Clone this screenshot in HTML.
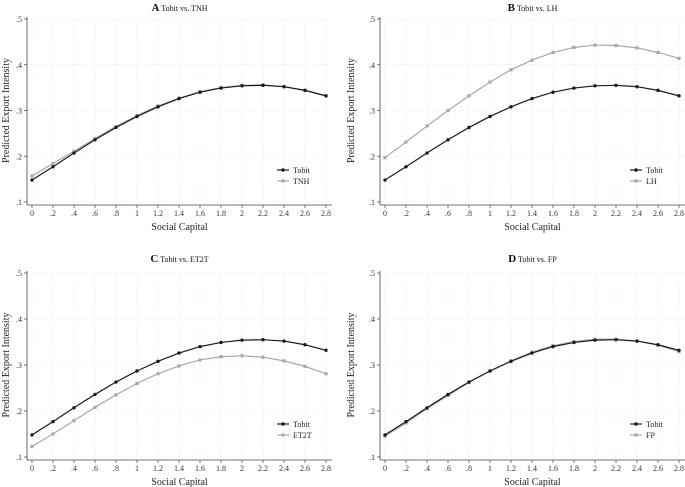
<!DOCTYPE html>
<html><head><meta charset="utf-8"><style>
body{margin:0;background:#fff}
svg{display:block;font-family:"Liberation Serif",serif}
</style></head><body>
<svg id="c" width="685" height="487" viewBox="0 0 685 487"></svg>
<script>
const xValues=[0,0.2,0.4,0.6,0.8,1,1.2,1.4,1.6,1.8,2,2.2,2.4,2.6,2.8];
const xTickLabels=["0",".2",".4",".6",".8","1","1.2","1.4","1.6","1.8","2","2.2","2.4","2.6","2.8"];
const yTicks=[0.1,0.2,0.3,0.4,0.5];
const yTickLabels=[".1",".2",".3",".4",".5"];
const tobit=[0.148,0.177,0.207,0.236,0.263,0.287,0.308,0.326,0.340,0.349,0.354,0.355,0.352,0.344,0.332];
const tnh=[0.157,0.184,0.211,0.239,0.265,0.289,0.310,0.327,0.341,0.350,0.355,0.356,0.352,0.344,0.332];
const lh=[0.197,0.231,0.266,0.300,0.332,0.362,0.389,0.410,0.427,0.438,0.443,0.442,0.437,0.427,0.414];
const et2t=[0.123,0.150,0.179,0.208,0.235,0.260,0.281,0.298,0.311,0.318,0.320,0.317,0.309,0.297,0.281];
const fp=[0.145,0.174,0.205,0.234,0.262,0.287,0.309,0.328,0.342,0.351,0.356,0.356,0.352,0.343,0.329];
const panelLetters=["A","B","C","D"];
const compNames=["TNH","LH","ET2T","FP"];
const compSeries=[tnh,lh,et2t,fp];

const NS="http://www.w3.org/2000/svg";
const svg=document.getElementById('c');
function mk(tag,attrs,parent){const e=document.createElementNS(NS,tag);for(const k in attrs)e.setAttribute(k,attrs[k]);(parent||svg).appendChild(e);return e;}
const layouts=[
 {x0:32,x1:326,yTop:19,yBot:202,axisX:27,ox:0,oy:0},
 {x0:385,x1:679,yTop:19,yBot:202,axisX:380,ox:345,oy:0},
 {x0:32,x1:326,yTop:273,yBot:457,axisX:27,ox:0,oy:242},
 {x0:385,x1:679,yTop:273,yBot:457,axisX:380,ox:345,oy:242}];
layouts.forEach((L,i)=>{
 const g=mk('g',{});
 
 
 const sx=v=>L.x0+(v-0)/(2.8-0)*(L.x1-L.x0);
 const sy=v=>L.yBot-(v-0.1)/(0.5-0.1)*(L.yBot-L.yTop);
 const right=L.x1+6;
 // grid
 yTicks.forEach((t,k)=>{
  const gl=mk('line',{x1:L.axisX,x2:right,y1:sy(t),y2:sy(t),stroke:'#dcdcdc','stroke-width':0.6,'stroke-dasharray':'1,1.5'},g);
  
  mk('line',{x1:L.axisX-3,x2:L.axisX,y1:sy(t),y2:sy(t),stroke:'#444','stroke-width':0.7},g);
  const tl=mk('text',{x:L.axisX-5,y:sy(t)+3,'font-size':8,'text-anchor':'end',fill:'#333'},g);
  tl.textContent=yTickLabels[k];
 });
 xValues.forEach((v,k)=>{
  const gl=mk('line',{x1:sx(v),x2:sx(v),y1:L.yTop,y2:L.yBot+3,stroke:'#dcdcdc','stroke-width':0.6,'stroke-dasharray':'1,1.5'},g);
  
  mk('line',{x1:sx(v),x2:sx(v),y1:L.yBot+3,y2:L.yBot+6,stroke:'#444','stroke-width':0.7},g);
  const tl=mk('text',{x:sx(v),y:L.yBot+14,'font-size':8,'text-anchor':'middle',fill:'#333'},g);
  tl.textContent=xTickLabels[k];
 });
 const ya=mk('line',{x1:L.axisX,x2:L.axisX,y1:L.yTop-2,y2:L.yBot+3,stroke:'#444','stroke-width':0.8},g);
 
 const xa=mk('line',{x1:L.axisX,x2:right,y1:L.yBot+3,y2:L.yBot+3,stroke:'#444','stroke-width':0.8},g);
 
 // titles
 const tt=mk('text',{x:(L.axisX+right)/2,y:L.oy+(i<2?11:20),'text-anchor':'middle','font-size':8,fill:'#111'},g);
 tt.innerHTML='<tspan font-size="11" font-weight="bold">'+panelLetters[i]+'</tspan> Tobit vs. '+compNames[i];
 
 const xt=mk('text',{x:(L.axisX+right)/2,y:L.yBot+28,'text-anchor':'middle','font-size':10,fill:'#222'},g);
 xt.textContent='Social Capital';
 const ycy=(L.yTop+L.yBot)/2, ycx=L.ox+9;
 const yt=mk('text',{x:ycx,y:ycy,'text-anchor':'middle','font-size':10,fill:'#222',transform:'rotate(-90 '+ycx+' '+ycy+')'},g);
 yt.textContent='Predicted Export Intensity';
 // series
 const drawSeries=(vals,color,name,square)=>{
  const sg=mk('g',{},g);
  
  mk('polyline',{points:vals.map((v,k)=>sx(xValues[k])+','+sy(v)).join(' '),fill:'none',stroke:color,'stroke-width':1.2},sg);
  vals.forEach((v,k)=>{
   const m=square?mk('rect',{x:sx(xValues[k])-1.6,y:sy(v)-1.6,width:3.2,height:3.2,fill:color},sg):mk('circle',{cx:sx(xValues[k]),cy:sy(v),r:1.7,fill:color},sg);
   
  });
 };
 drawSeries(compSeries[i],'#a8a8a8',compNames[i].toLowerCase(),true);
 drawSeries(tobit,'#1a1a1a','tobit',false);
 // legend
 const lg=mk('g',{},g);
 
 const lx=L.ox+(i%2?285:277), ly=L.oy+(i<2?170:182);
 [['Tobit','#1a1a1a',false],[compNames[i],'#a8a8a8',true]].forEach((e,k)=>{
  const y=ly+k*11;
  const eg=mk('g',{},lg);
  
  mk('line',{x1:lx,x2:lx+12,y1:y,y2:y,stroke:e[1],'stroke-width':1.2},eg);
  if(e[2])mk('rect',{x:lx+4.4,y:y-1.6,width:3.2,height:3.2,fill:e[1]},eg);else mk('circle',{cx:lx+6,cy:y,r:1.7,fill:e[1]},eg);
  const t=mk('text',{x:lx+16,y:y+3,'font-size':8,fill:'#222'},eg);t.textContent=e[0];
 });
});
</script>
</body></html>
